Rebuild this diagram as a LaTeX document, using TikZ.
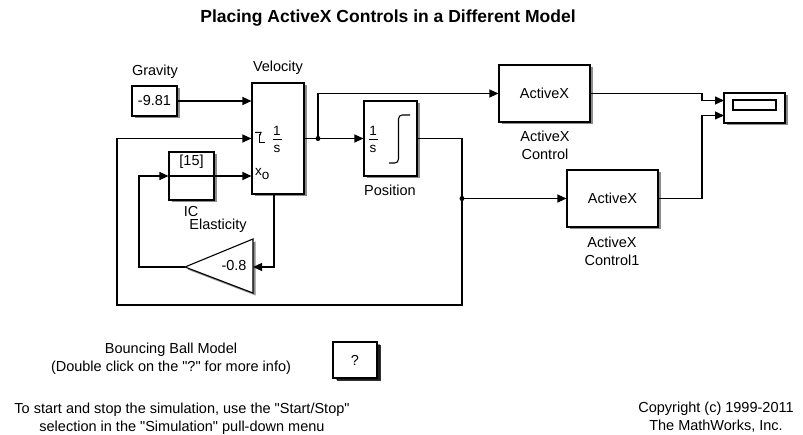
\documentclass[tikz,border=0pt]{standalone}
\usepackage{fontspec}
\setmainfont{Liberation Sans}[Ligatures=TeXOff]
\usetikzlibrary{arrows.meta,shadows}
\begin{document}
\begin{tikzpicture}[x=1pt,y=-1pt,
  blk/.style={draw,line width=1.1pt,fill=white,inner sep=0pt,
    drop shadow={shadow xshift=2.5pt,shadow yshift=-2.5pt,opacity=0.45,fill=black}},
  wire/.style={line width=1.1pt},
  arr/.style={wire,-{Triangle[length=9pt,width=8pt]}},
  lbl/.style={font=\fontsize{14.5}{17}\selectfont,inner sep=0pt},
  icn/.style={font=\fontsize{13.5}{14}\selectfont,inner sep=0pt},
  txt/.style={font=\fontsize{14.5}{18}\selectfont,inner sep=0pt,align=center},
  dot/.style={circle,fill=black,inner sep=0pt,minimum size=5pt}]
\useasboundingbox (0,0) rectangle (803,435);
% title
\node[font=\bfseries\fontsize{17.5}{20}\selectfont] (title) at (388,18) {Placing ActiveX Controls in a Different Model};
% blocks
\node[blk,minimum width=45pt,minimum height=30pt] (gravity) at (154.5,101) {};
\node[lbl] at (gravity) {-9.81};
\node[lbl] (gravlbl) at (155,72) {Gravity};
\node[blk,minimum width=52pt,minimum height=111pt] (velocity) at (278,138.5) {};
\node[lbl] (vellbl) at (278,68) {Velocity};
\node[blk,minimum width=45pt,minimum height=48pt] (ic) at (191.5,176) {};
\node[lbl] at (191.5,162) {[15]};
\node[lbl] (iclbl) at (191,212) {IC};
\node[lbl] (elbl) at (218,226) {Elasticity};
\node[blk,minimum width=53pt,minimum height=75pt] (position) at (390.5,138.5) {};
\node[lbl] (poslbl) at (390,190) {Position};
\node[blk,minimum width=91pt,minimum height=57pt] (ax1) at (544.5,93.5) {};
\node[lbl] at (ax1) {ActiveX};
\node[txt] (ax1lbl) at (545,145) {ActiveX\\Control};
\node[blk,minimum width=91pt,minimum height=57pt] (ax2) at (612.5,198.5) {};
\node[lbl] at (ax2) {ActiveX};
\node[txt] (ax2lbl) at (612,251) {ActiveX\\Control1};
\node[blk,minimum width=61pt,minimum height=30pt] (display) at (754.5,108) {};
\draw[line width=1.1pt] (733,100) rectangle (776,110);
\node[blk,minimum width=44pt,minimum height=36pt,
  drop shadow={shadow xshift=3.5pt,shadow yshift=-3.5pt,opacity=0.8,fill=black}] (help) at (355,360) {};
\node[lbl] at (help) {?};
% gain triangle
\coordinate (gaintip) at (185,267);
\coordinate (gainin) at (253,267);
\draw[line width=1.1pt,fill=white,drop shadow={shadow xshift=2.5pt,shadow yshift=-2.5pt,opacity=0.45,fill=black}]
  (253,239) -- (253,293) -- (gaintip) -- cycle;
\node[lbl] (gainlbl) at (234,266) {-0.8};
% integrator icon
\draw[line width=1pt] (255,132.5) -- (261,132.5) -- (259.5,136);
\draw[line width=1pt] (259.5,134.5) -- (259.5,143) -- (265,143);
\node[icn] at (277,131) {1};
\draw[line width=0.9pt] (272.5,139.5) -- (281.5,139.5);
\node[icn] at (277,148.5) {s};
\node[icn,anchor=west] at (255,174) {x\raisebox{-3.5pt}{o}};
% position icon
\node[icn] at (373,131) {1};
\draw[line width=0.9pt] (368.5,139.5) -- (377.5,139.5);
\node[icn] at (373,148.5) {s};
\draw[line width=1.1pt] (389,163) -- (395,163) to[out=0,in=-90] (398.5,159) -- (398.5,119) to[out=90,in=180] (402,115) -- (410,115);
% coordinates
\coordinate (j1) at (318,138.5);
\coordinate (j2) at (462,198.5);
\coordinate (rb) at (462,305);
\coordinate (lb) at (117,305);
\coordinate (vs) at (274,194);
\coordinate (lc) at (139,176);
\coordinate (c1) at (702,100.5);
\coordinate (c2) at (702,115.5);
\coordinate (d1) at (724,100.5);
\coordinate (d2) at (724,115.5);
% connectors
\draw[arr] (gravity.east) -- (gravity.east -| velocity.west);
\draw[wire] (velocity.east) -- (j1);
\draw[arr] (j1) -- (position.west);
\draw[arr] (j1) |- (ax1.west);
\draw[wire] (position.east) -| (j2);
\draw[arr] (j2) -- (ax2.west);
\draw[arr] (j2) -- (rb) -- (lb) |- (velocity.west);
\draw[arr] (ax1.east) -| (c1) -- (d1);
\draw[arr] (ax2.east) -| (c2) -- (d2);
\draw[arr] (vs) |- (gainin);
\draw[arr] (gaintip) -| (lc) -- (ic.west);
\draw[wire] (ic.west) -- (ic.east);
\draw[arr] (ic.east) -- (ic.east -| velocity.west);
\node[dot] at (j1) {};
\node[dot] at (j2) {};
% texts
\node[txt] (bb) at (171,358.5) {Bouncing Ball Model\\(Double click on the "?" for more info)};
\node[txt] (start) at (182,419) {To start and stop the simulation, use the "Start/Stop"\\selection in the "Simulation" pull-down menu};
\node[txt] (copy) at (716,417) {Copyright (c) 1999-2011\\The MathWorks, Inc.};
\end{tikzpicture}
\end{document}
